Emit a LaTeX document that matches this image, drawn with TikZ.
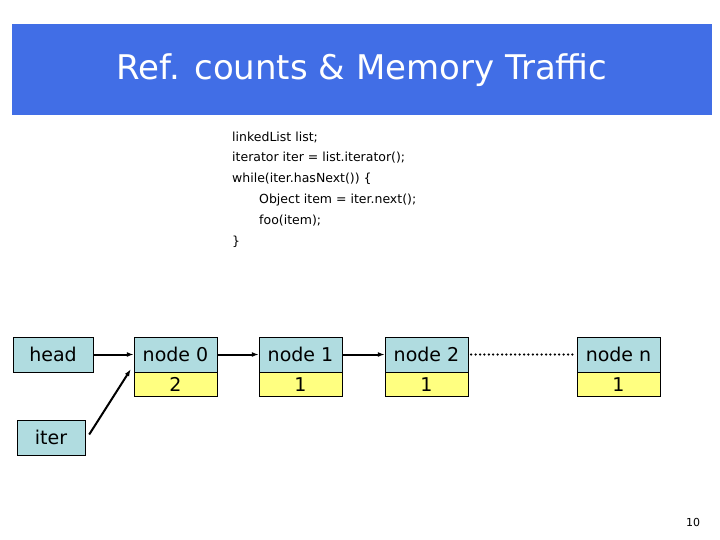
\documentclass[tikz,border=0pt]{standalone}
\usepackage{fontspec}
\setmainfont{DejaVu Sans}
\usepackage{tikz}
\usetikzlibrary{positioning, arrows.meta, calc}
\definecolor{slide-blue}{RGB}{65,110,230}
\definecolor{cell-top}{RGB}{176,220,224}
\definecolor{cell-count}{RGB}{255,255,128}
\begin{document}
\begin{tikzpicture}[x=1pt, y=-1pt,
    ptr/.style={-{Latex[length=7pt,width=5pt]}, line width=2pt},
    topcell/.style={draw, fill=cell-top, minimum width=83pt, minimum height=35pt, inner sep=0pt, font=\fontsize{19}{21}\selectfont},
    countcell/.style={draw, fill=cell-count, minimum width=83pt, minimum height=24pt, inner sep=0pt, font=\fontsize{19}{21}\selectfont},
    codeline/.style={anchor=west, inner sep=0pt, font=\fontsize{12.5}{14}\selectfont}]
\useasboundingbox (0,0) rectangle (720,540);
\fill[slide-blue] (12,24) rectangle (712,115);
\node[font=\fontsize{34}{38}\selectfont, text=white] (title) at (362,70) {Ref. counts \& Memory Traffic};
% code
\node[codeline] (c1) at (232,137) {linkedList list;};
\node[codeline] (c2) at (232,158) {iterator iter = list.iterator();};
\node[codeline] (c3) at (232,179) {while(iter.hasNext()) \{};
\node[codeline] (c4) at (259,200) {Object item = iter.next();};
\node[codeline] (c5) at (259,221) {foo(item);};
\node[codeline] (c6) at (232,242) {\}};
% list
\node[topcell, minimum width=80pt] (head) at (53,354.5) {head};
\node[topcell] (n0) at (175.5,354.5) {node 0};
\node[countcell, below=0pt of n0] (k0) {2};
\node[topcell] (n1) at (300.5,354.5) {node 1};
\node[countcell, below=0pt of n1] (k1) {1};
\node[topcell] (n2) at (426.5,354.5) {node 2};
\node[countcell, below=0pt of n2] (k2) {1};
\node[topcell] (nn) at (618.5,354.5) {node n};
\node[countcell, below=0pt of nn] (kn) {1};
\node[topcell, minimum width=68pt] (iter) at (51,437.5) {iter};
\draw[ptr] (head) -- (n0);
\draw[ptr] (n0) -- (n1);
\draw[ptr] (n1) -- (n2);
\draw[line width=2.5pt, dash pattern=on 0pt off 4.4pt, line cap=round] ($(n2.east)+(3,0)$) -- ($(nn.west)+(-3,0)$);
\draw[ptr] ($(iter.east)+(4,-3)$) -- ($(n0.south west)+(-3,-3)$);
\node[font=\fontsize{11}{13}\selectfont] (page) at (693,522) {10};
\end{tikzpicture}
\end{document}
